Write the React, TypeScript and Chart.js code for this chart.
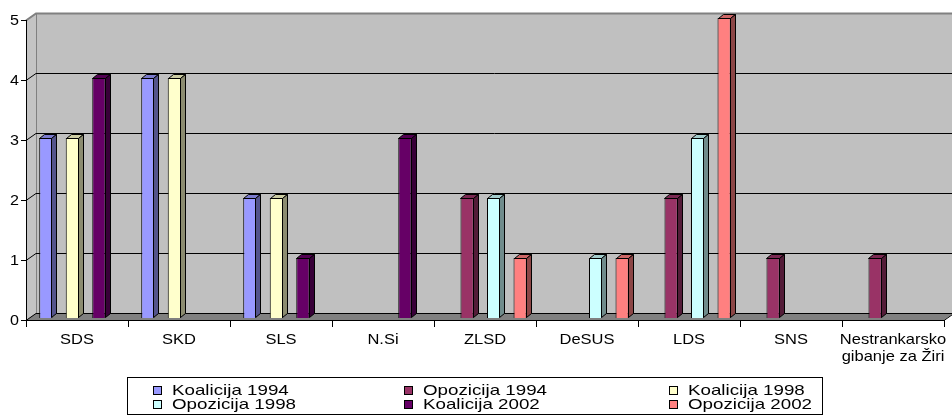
import React, { useEffect, useRef } from "react";
import { Chart, registerables } from "chart.js";

Chart.register(...registerables);

// ---------- data ----------
const categories: string[][] = [
  ["SDS"],
  ["SKD"],
  ["SLS"],
  ["N.Si"],
  ["ZLSD"],
  ["DeSUS"],
  ["LDS"],
  ["SNS"],
  ["Nestrankarsko", "gibanje za Žiri"],
];
const seriesNames = [
  "Koalicija 1994",
  "Opozicija 1994",
  "Koalicija 1998",
  "Opozicija 1998",
  "Koalicija 2002",
  "Opozicija 2002",
];
const koalicija1994 = [3, 4, 2, null, null, null, null, null, null];
const opozicija1994 = [null, null, null, null, 2, null, 2, 1, 1];
const koalicija1998 = [3, 4, 2, null, null, null, null, null, null];
const opozicija1998 = [null, null, null, null, 2, 1, 3, null, null];
const koalicija2002 = [4, null, 1, 3, null, null, null, null, null];
const opozicija2002 = [null, null, null, null, 1, 1, 5, null, null];
const seriesColors = ["#9999FF", "#993366", "#FFFFCC", "#CCFFFF", "#660066", "#FF8080"];
const yTicks = [0, 1, 2, 3, 4, 5];

// ---------- helpers ----------
function shade(hex: string, f: number) {
  const n = parseInt(hex.slice(1), 16);
  const r = Math.round(((n >> 16) & 255) * f);
  const g = Math.round(((n >> 8) & 255) * f);
  const b = Math.round((n & 255) * f);
  return `rgb(${r},${g},${b})`;
}

function stretchText(
  ctx: CanvasRenderingContext2D,
  text: string,
  x: number,
  y: number,
  align: CanvasTextAlign,
  sx: number,
  font: string
) {
  ctx.save();
  ctx.translate(x, y);
  ctx.scale(sx, 1);
  ctx.font = font;
  ctx.fillStyle = "#000";
  ctx.textAlign = align;
  ctx.textBaseline = "alphabetic";
  ctx.fillText(text, 0, 0);
  ctx.restore();
}

const WALL_DX = 10;
const WALL_DY = -7;
const BAR_DX = 5;
const BAR_DY = -4;
const BAR_SHIFT_X = 2;
const BAR_SHIFT_Y = -2;

const threeD = {
  id: "threeD",
  beforeDatasetsDraw(chart: any) {
    const { ctx, chartArea, scales } = chart;
    const { left, right, top, bottom } = chartArea;
    const y = scales.y;
    const x = scales.x;
    ctx.save();
    // back wall
    ctx.fillStyle = "#C0C0C0";
    ctx.fillRect(left + WALL_DX, top + WALL_DY, right - left + 20, bottom - top);
    // left wall
    ctx.beginPath();
    ctx.moveTo(left, top);
    ctx.lineTo(left + WALL_DX, top + WALL_DY);
    ctx.lineTo(left + WALL_DX, bottom + WALL_DY);
    ctx.lineTo(left, bottom);
    ctx.closePath();
    ctx.fillStyle = "#C4C4C4";
    ctx.fill();
    // floor
    ctx.beginPath();
    ctx.moveTo(left, bottom);
    ctx.lineTo(right, bottom);
    ctx.lineTo(right + WALL_DX, bottom + WALL_DY);
    ctx.lineTo(left + WALL_DX, bottom + WALL_DY);
    ctx.closePath();
    ctx.fillStyle = "#808080";
    ctx.fill();

    ctx.lineWidth = 1;
    // back-left vertical edge
    ctx.strokeStyle = "#808080";
    ctx.beginPath();
    ctx.moveTo(left + WALL_DX + 0.5, top + WALL_DY);
    ctx.lineTo(left + WALL_DX + 0.5, bottom + WALL_DY);
    ctx.stroke();

    // gridlines
    yTicks.forEach((v) => {
      const yy = Math.round(y.getPixelForValue(v)) + 0.5;
      const isTop = v === yTicks[yTicks.length - 1];
      ctx.strokeStyle = isTop ? "#808080" : "#000";
      ctx.lineWidth = isTop ? 2 : 1;
      ctx.beginPath();
      ctx.moveTo(left, yy);
      ctx.lineTo(left + WALL_DX, yy + WALL_DY);
      ctx.lineTo(right + WALL_DX + 20, yy + WALL_DY);
      ctx.stroke();
    });
    ctx.lineWidth = 1;
    ctx.strokeStyle = "#000";
    // y axis line + ticks
    ctx.beginPath();
    ctx.moveTo(left + 0.5, top);
    ctx.lineTo(left + 0.5, bottom);
    yTicks.forEach((v) => {
      const yy = Math.round(y.getPixelForValue(v)) + 0.5;
      ctx.moveTo(left - 5, yy);
      ctx.lineTo(left, yy);
    });
    ctx.stroke();
    // x axis line + ticks
    const n = categories.length;
    const w = (right - left) / n;
    ctx.beginPath();
    ctx.moveTo(left, bottom + 0.5);
    ctx.lineTo(right, bottom + 0.5);
    ctx.moveTo(right, bottom + 0.5);
    ctx.lineTo(right + WALL_DX, bottom + WALL_DY + 0.5);
    for (let i = 0; i <= n; i++) {
      const bx = Math.round(x.getPixelForValue(Math.min(i, n - 1)) + (i === n ? w / 2 : -w / 2)) + 0.5;
      ctx.moveTo(bx, bottom);
      ctx.lineTo(bx, bottom + 7);
    }
    ctx.stroke();
    ctx.restore();

    // shift bars to the middle of the depth
    ctx.save();
    ctx.translate(BAR_SHIFT_X, BAR_SHIFT_Y);
  },
  afterDatasetsDraw(chart: any) {
    const { ctx } = chart;
    chart.data.datasets.forEach((ds: any, i: number) => {
      const meta = chart.getDatasetMeta(i);
      meta.data.forEach((bar: any, j: number) => {
        if (ds.data[j] == null) return;
        const l = Math.round(bar.x - bar.width / 2) + 0.5;
        const r = Math.round(bar.x + bar.width / 2) - 0.5;
        const t = Math.round(bar.y) + 0.5;
        const b = Math.round(bar.base) - 0.5;
        const col = seriesColors[i];
        ctx.lineWidth = 1;
        ctx.strokeStyle = "#000";
        // top face
        ctx.beginPath();
        ctx.moveTo(l, t);
        ctx.lineTo(l + BAR_DX, t + BAR_DY);
        ctx.lineTo(r + BAR_DX, t + BAR_DY);
        ctx.lineTo(r, t);
        ctx.closePath();
        ctx.fillStyle = shade(col, 0.8);
        ctx.fill();
        ctx.stroke();
        // side face
        ctx.beginPath();
        ctx.moveTo(r, t);
        ctx.lineTo(r + BAR_DX, t + BAR_DY);
        ctx.lineTo(r + BAR_DX, b + BAR_DY);
        ctx.lineTo(r, b);
        ctx.closePath();
        ctx.fillStyle = shade(col, 0.55);
        ctx.fill();
        ctx.stroke();
      });
    });
    ctx.restore();
  },
  afterDraw(chart: any) {
    const { ctx, chartArea, scales } = chart;
    const { left, bottom } = chartArea;
    // y tick labels
    yTicks.forEach((v) => {
      const yy = scales.y.getPixelForValue(v);
      stretchText(ctx, String(v), left - 7, yy + 5, "right", 1.15, "14px 'Liberation Sans', Arial, sans-serif");
    });
    // x category labels
    categories.forEach((lines, i) => {
      const cx = scales.x.getPixelForValue(i);
      lines.forEach((ln, k) => {
        stretchText(ctx, ln, cx, bottom + 24 + k * 17, "center", 1.1, "15px 'Liberation Sans', Arial, sans-serif");
      });
    });
    // legend
    ctx.save();
    ctx.strokeStyle = "#000";
    ctx.lineWidth = 1;
    ctx.strokeRect(127.5, 377.5, 695, 37);
    const colX = [153, 404, 669];
    const rowY = [386, 400];
    chart.data.datasets.forEach((ds: any, i: number) => {
      const cx = colX[i % 3];
      const ry = rowY[Math.floor(i / 3)];
      ctx.fillStyle = ds.backgroundColor;
      ctx.fillRect(cx + 0.5, ry + 0.5, 8, 8);
      ctx.strokeRect(cx + 0.5, ry + 0.5, 8, 8);
      stretchText(ctx, ds.label, cx + 19, ry + 9, "left", 1.25, "15px 'Liberation Sans', Arial, sans-serif");
    });
    ctx.restore();
  },
};

export default function App() {
  const ref = useRef<HTMLCanvasElement>(null);
  useEffect(() => {
    if (!ref.current) return;
    const values = [koalicija1994, opozicija1994, koalicija1998, opozicija1998, koalicija2002, opozicija2002];
    const chart = new Chart(ref.current, {
      type: "bar",
      data: {
        labels: categories.map((c) => c.join(" ")),
        datasets: seriesNames.map((name, i) => ({
          label: name,
          data: values[i] as any,
          backgroundColor: seriesColors[i],
          borderColor: "#000",
          borderWidth: 1,
          barPercentage: 1,
          categoryPercentage: 0.78,
        })),
      },
      options: {
        animation: false,
        responsive: false,
        maintainAspectRatio: false,
        layout: { padding: { left: 26, right: 8, top: 20, bottom: 98 } },
        scales: {
          x: { display: false, offset: true },
          y: { display: false, min: 0, max: 5 },
        },
        plugins: { legend: { display: false }, tooltip: { enabled: false } },
      },
      plugins: [threeD],
    });
    return () => chart.destroy();
  }, []);
  return (
    <div style={{ position: "fixed", left: 0, top: 0, width: 952, height: 418, background: "#fff" }}>
      <canvas ref={ref} width={952} height={418} style={{ width: 952, height: 418 }} />
    </div>
  );
}
